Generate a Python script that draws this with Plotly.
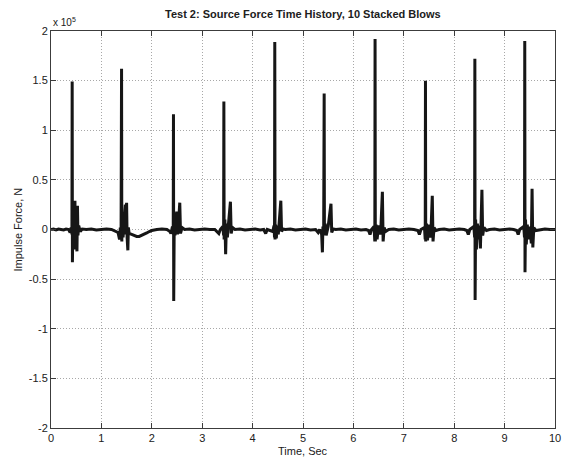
import plotly.graph_objects as go

# Source force time history, values in units of 1e5 N
time_s = [
    # lead-in and blow 1
    0.00, 0.05, 0.10, 0.15, 0.20, 0.25, 0.30, 0.35,
    0.38, 0.40, 0.415, 0.42, 0.425, 0.435, 0.445, 0.455, 0.465, 0.475, 0.485,
    0.50, 0.515, 0.525, 0.535, 0.55, 0.58, 0.62, 0.70, 0.80, 0.90, 1.00, 1.10, 1.20, 1.28,
    # blow 2 and the slow dip that follows it
    1.33, 1.36, 1.375, 1.39, 1.40, 1.405, 1.415, 1.43, 1.45, 1.475, 1.485, 1.50, 1.51,
    1.525, 1.535, 1.55, 1.60, 1.65, 1.70, 1.75, 1.80, 1.85, 1.90, 1.95, 2.00, 2.10,
    2.20, 2.30, 2.36,
    # blow 3
    2.38, 2.41, 2.425, 2.43, 2.435, 2.445, 2.46, 2.495, 2.51, 2.53, 2.555, 2.57, 2.60,
    2.65, 2.75, 2.85, 2.95, 3.05, 3.15, 3.25, 3.33, 3.36,
    # blow 4
    3.41, 3.425, 3.43, 3.435, 3.45, 3.465, 3.48, 3.50, 3.52, 3.56, 3.575, 3.60, 3.65,
    3.75, 3.85, 3.95, 4.05, 4.15, 4.22,
    # blow 5
    4.26, 4.29, 4.40, 4.425, 4.435, 4.44, 4.445, 4.455, 4.47, 4.49, 4.51, 4.56, 4.575,
    4.60, 4.65, 4.75, 4.85, 4.95, 5.05, 5.15, 5.25,
    # blow 6
    5.30, 5.33, 5.37, 5.385, 5.395, 5.41, 5.42, 5.425, 5.44, 5.46, 5.50, 5.555, 5.57,
    5.60, 5.65, 5.75, 5.85, 5.95, 6.05, 6.15, 6.25,
    # blow 7
    6.30, 6.33, 6.36, 6.41, 6.425, 6.43, 6.435, 6.45, 6.47, 6.50, 6.54, 6.575, 6.59,
    6.61, 6.64, 6.70, 6.80, 6.90, 7.00, 7.10, 7.20,
    # blow 8
    7.28, 7.31, 7.34, 7.41, 7.425, 7.43, 7.435, 7.45, 7.47, 7.50, 7.535, 7.565, 7.58,
    7.60, 7.64, 7.70, 7.80, 7.90, 8.00, 8.10, 8.20,
    # blow 9
    8.25, 8.28, 8.31, 8.39, 8.405, 8.41, 8.415, 8.425, 8.44, 8.46, 8.48, 8.50, 8.52,
    8.55, 8.565, 8.59, 8.64, 8.70, 8.80, 8.90, 9.00, 9.10, 9.18,
    # blow 10 and tail
    9.24, 9.27, 9.30, 9.38, 9.395, 9.40, 9.405, 9.415, 9.43, 9.45, 9.47, 9.50, 9.53,
    9.545, 9.56, 9.58, 9.62, 9.70, 9.80, 9.90, 10.00,
]

force_1e5N = [
    # lead-in and blow 1
    0.000, 0.005, -0.005, 0.005, 0.000, -0.005, 0.005, 0.000,
    -0.03, 0.02, -0.05, 1.49, -0.33, 0.10, -0.15, 0.12, -0.05, 0.29, -0.20,
    0.08, -0.22, 0.24, -0.06, 0.04, -0.02, 0.005, 0.000, 0.005, -0.005, 0.000, 0.005, 0.000, -0.02,
    # blow 2 and the slow dip that follows it
    -0.03, -0.10, 0.02, -0.06, 1.62, -0.12, 0.15, -0.08, 0.05, 0.25, -0.05, 0.27, -0.08,
    -0.21, 0.02, -0.04, -0.05, -0.06, -0.07, -0.07, -0.06, -0.05, -0.035, -0.02, -0.01, 0.000,
    0.005, 0.000, -0.02,
    # blow 3
    -0.04, 0.03, -0.05, 1.16, -0.72, 0.08, -0.06, 0.18, -0.05, 0.06, 0.27, -0.04, 0.02,
    0.000, 0.005, -0.005, 0.000, 0.005, 0.000, 0.000, -0.04, 0.000,
    # blow 4
    0.03, -0.06, 1.29, -0.10, 0.10, -0.25, 0.06, -0.08, 0.05, 0.28, -0.04, 0.02, 0.000,
    0.005, -0.005, 0.000, 0.005, -0.005, 0.000,
    # blow 5
    -0.04, 0.000, -0.02, 0.04, -0.08, 1.89, -0.10, 0.05, -0.09, 0.04, -0.05, 0.29, -0.02,
    0.005, 0.000, 0.005, -0.005, 0.000, 0.005, -0.005, 0.000,
    # blow 6
    -0.03, 0.000, -0.05, -0.23, 0.03, -0.06, 1.37, -0.05, 0.06, -0.06, 0.03, 0.26, -0.03,
    0.005, 0.000, 0.005, -0.005, 0.000, 0.005, -0.005, 0.000,
    # blow 7
    -0.01, -0.05, 0.000, 0.03, -0.12, 1.92, -0.12, 0.05, -0.10, 0.04, -0.05, 0.38, -0.12,
    0.02, -0.02, 0.000, 0.005, -0.005, 0.000, 0.005, 0.000,
    # blow 8
    -0.01, -0.05, 0.000, 0.02, -0.10, 1.50, -0.12, 0.06, -0.11, 0.05, -0.08, 0.34, -0.12,
    0.02, -0.01, 0.000, 0.005, -0.005, 0.000, 0.005, 0.000,
    # blow 9
    -0.01, -0.05, 0.000, 0.03, -0.08, 1.72, -0.71, 0.10, -0.20, 0.06, -0.10, 0.04, -0.19,
    0.40, -0.06, 0.02, -0.01, 0.000, 0.005, -0.005, 0.000, 0.005, 0.000,
    # blow 10 and tail
    -0.01, -0.05, 0.000, 0.03, -0.08, 1.90, -0.43, 0.10, -0.15, 0.05, -0.10, 0.03, -0.14,
    0.41, -0.18, 0.02, -0.01, 0.000, 0.005, 0.000, 0.000,
]

x_ticks = list(range(0, 11))
y_ticks = [-2, -1.5, -1, -0.5, 0, 0.5, 1, 1.5, 2]
y_tick_text = ["-2", "-1.5", "-1", "-0.5", "0", "0.5", "1", "1.5", "2"]

font_family = "Liberation Sans, Arial, Helvetica, sans-serif"
axis_color = "#3c3c3c"
grid_color = "#a8a8a8"
text_color = "#202020"

fig = go.Figure()
fig.add_trace(go.Scatter(
    x=time_s, y=force_1e5N, mode="lines",
    line=dict(color="#161616", width=3),
    hoverinfo="skip", showlegend=False,
))

common_axis = dict(
    showline=True, linecolor=axis_color, linewidth=1, mirror="ticks",
    ticks="inside", ticklen=5, tickcolor=axis_color, tickwidth=1,
    showgrid=True, gridcolor=grid_color, griddash="1px,2px", gridwidth=1,
    zeroline=False, automargin=False,
    tickfont=dict(family=font_family, size=11, color=text_color),
)

fig.update_xaxes(range=[0, 10], tickvals=x_ticks, **common_axis)
fig.update_yaxes(range=[-2, 2], tickvals=y_ticks, ticktext=y_tick_text, **common_axis)

fig.update_layout(
    width=566, height=459,
    margin=dict(l=51, r=11, t=31, b=31, autoexpand=False),
    paper_bgcolor="white", plot_bgcolor="white",
    font=dict(family=font_family, color=text_color),
    annotations=[
        dict(text="<b>Test 2: Source Force Time History, 10 Stacked Blows</b>",
             xref="paper", yref="paper", x=0.5, y=1, yshift=17,
             xanchor="center", yanchor="middle", showarrow=False,
             font=dict(size=11, family=font_family, color=text_color)),
        dict(text="Time, Sec", xref="paper", yref="paper", x=0.5, y=0, yshift=-23,
             xanchor="center", yanchor="middle", showarrow=False,
             font=dict(size=11, family=font_family, color=text_color)),
        dict(text="Impulse Force, N", xref="paper", yref="paper", x=0, y=0.5,
             xshift=-34, textangle=-90, xanchor="center", yanchor="middle",
             showarrow=False, font=dict(size=11, family=font_family, color=text_color)),
        dict(text="x 10<sup>5</sup>", xref="paper", yref="paper", x=0, y=1,
             xshift=0, yshift=9, xanchor="left", yanchor="middle", showarrow=False,
             font=dict(size=10, family=font_family, color=text_color)),
    ],
)

fig.write_html("out.html")
